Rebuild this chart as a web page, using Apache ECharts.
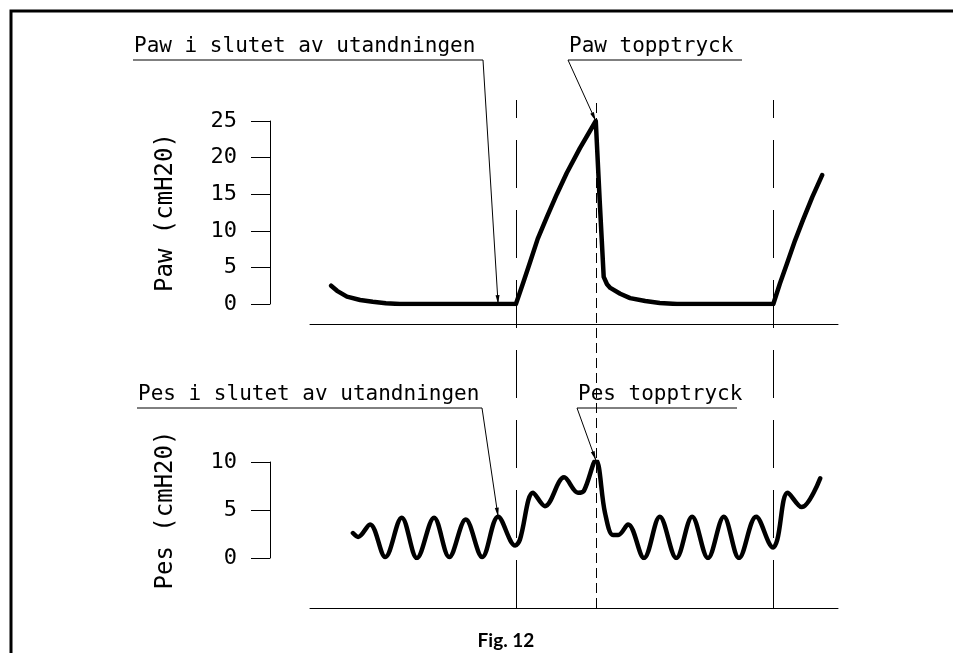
<!DOCTYPE html>
<html>
<head>
<meta charset="utf-8">
<script src="https://cdn.jsdelivr.net/npm/echarts@6/dist/echarts.min.js"></script>
<style>
  html, body { margin: 0; padding: 0; background: #fff; }
  #chart { width: 953px; height: 653px; }
</style>
</head>
<body>
<div id="chart"></div>
<script>
// time in seconds (arbitrary scale), pressure in cmH2O
var pawTime = [0.32, 0.41, 0.56, 0.76, 0.95, 1.15, 1.36, 3.12, 3.23, 3.33, 3.45, 3.59, 3.74, 3.89, 4.09, 4.33,
  4.39, 4.45, 4.50, 4.55, 4.70, 4.85, 5.08, 5.30, 5.56, 7.02, 7.12, 7.23, 7.35, 7.47, 7.61, 7.76];
var pawValue = [2.5, 1.8, 1.0, 0.55, 0.3, 0.1, 0, 0, 2.9, 5.6, 8.9, 11.9, 15.0, 17.9, 21.3, 25,
  14, 3.7, 2.7, 2.2, 1.4, 0.8, 0.4, 0.15, 0, 0, 2.8, 5.6, 8.7, 11.5, 14.6, 17.6];

var pesTime = [0.65, 0.73, 0.91, 1.14, 1.39, 1.62, 1.88, 2.11, 2.36, 2.61, 2.85, 3.11, 3.18, 3.38, 3.56, 3.85,
  4.06, 4.15, 4.33, 4.47, 4.59, 4.67, 4.82, 5.06, 5.30, 5.55, 5.79, 6.03, 6.27, 6.50, 6.76, 7.02, 7.08, 7.24, 7.45, 7.73];
var pesValue = [2.6, 2.2, 3.5, 0.1, 4.2, 0, 4.2, 0.1, 4.0, 0.1, 4.3, 1.3, 1.9, 6.8, 5.4, 8.4,
  6.8, 7.0, 10.2, 4.7, 2.4, 2.4, 3.5, 0, 4.3, 0, 4.3, 0, 4.3, 0, 4.3, 1.1, 1.9, 6.8, 5.3, 8.3];

var pawTicks = [0, 5, 10, 15, 20, 25];
var pesTicks = [0, 5, 10];

// breath start (long dash) and peak (short dash)
var breathStarts = [3.12, 7.02];
var peakTimes = [4.33];

var notes = [
  { text: 'Paw i slutet av utandningen', grid: 0, at: [2.85, 0], x0: 133, x1: 483, y: 60, side: 'right' },
  { text: 'Paw topptryck', grid: 0, at: [4.33, 25], x0: 568, x1: 742, y: 60, side: 'left' },
  { text: 'Pes i slutet av utandningen', grid: 1, at: [2.85, 4.3], x0: 137, x1: 482, y: 408, side: 'right' },
  { text: 'Pes topptryck', grid: 1, at: [4.33, 10.2], x0: 577, x1: 737, y: 408, side: 'left' }
];

var FONT = 'DejaVu Sans Mono';
var chart = echarts.init(document.getElementById('chart'));

function zip(a, b) {
  return a.map(function (v, i) { return [v, b[i]]; });
}

function xAxisFor(gridIndex, offset, visible) {
  return {
    type: 'value', gridIndex: gridIndex, min: 0, max: 8, offset: offset,
    axisLine: { show: visible, onZero: false, lineStyle: { color: '#000', width: 1 } },
    axisTick: { show: false }, axisLabel: { show: false }, splitLine: { show: false }
  };
}

function yAxisFor(gridIndex, ticks, name) {
  return {
    type: 'value', gridIndex: gridIndex, min: ticks[0], max: ticks[ticks.length - 1],
    interval: ticks[1] - ticks[0], offset: 40,
    name: name, nameLocation: 'middle', nameGap: 92,
    nameTextStyle: { fontFamily: FONT, fontSize: 24, color: '#000' },
    axisLine: { show: true, onZero: false, lineStyle: { color: '#000', width: 1 } },
    axisTick: { show: true, length: 19, lineStyle: { color: '#000', width: 1 } },
    axisLabel: { fontFamily: FONT, fontSize: 22, color: '#000', margin: 33 },
    splitLine: { show: false }
  };
}

var option = {
  animation: false,
  backgroundColor: '#fff',
  grid: [
    { left: 310, right: 115, top: 121, height: 183 },
    { left: 310, right: 115, top: 462, height: 96 },
    { left: 310, right: 115, top: 100, bottom: 45 }
  ],
  xAxis: [xAxisFor(0, 20, true), xAxisFor(1, 50, true), xAxisFor(2, 0, false)],
  yAxis: [
    yAxisFor(0, pawTicks, 'Paw (cmH20)'),
    yAxisFor(1, pesTicks, 'Pes (cmH20)'),
    { type: 'value', gridIndex: 2, min: 0, max: 1, show: false }
  ],
  series: [
    {
      type: 'line', xAxisIndex: 2, yAxisIndex: 2, data: [[0, 0]], symbol: 'none',
      lineStyle: { opacity: 0 }, silent: true,
      markLine: {
        symbol: 'none', silent: true, label: { show: false },
        data: breathStarts.map(function (t) {
          return { xAxis: t, lineStyle: { color: '#000', width: 1, type: [48, 22] } };
        }).concat(peakTimes.map(function (t) {
          return { xAxis: t, lineStyle: { color: '#000', width: 1, type: [10, 5] } };
        }))
      }
    },
    {
      type: 'line', xAxisIndex: 0, yAxisIndex: 0, data: zip(pawTime, pawValue),
      symbol: 'none', lineStyle: { color: '#000', width: 4.5, cap: 'round', join: 'round' }, z: 5
    },
    {
      type: 'line', xAxisIndex: 1, yAxisIndex: 1, data: zip(pesTime, pesValue), smooth: 0.35,
      symbol: 'none', lineStyle: { color: '#000', width: 4.5, cap: 'round', join: 'round' }, z: 5
    }
  ]
};
chart.setOption(option);

// frame, caption and the leader-line notes
var graphics = [
  { type: 'polyline', shape: { points: [[11, 653], [11, 11], [953, 11]] },
    style: { stroke: '#000', lineWidth: 3, fill: null } },
  { type: 'text', x: 506, y: 641, style: { text: 'Fig. 12', font: 'bold 19px Lato', fill: '#000',
    align: 'center', verticalAlign: 'middle' } }
];
notes.forEach(function (n) {
  var tip = chart.convertToPixel({ gridIndex: n.grid }, n.at);
  var sx = n.side === 'right' ? n.x1 : n.x0;
  var dx = tip[0] - sx, dy = tip[1] - n.y;
  var len = Math.sqrt(dx * dx + dy * dy);
  var ux = dx / len, uy = dy / len;
  var bx = tip[0] - ux * 9, by = tip[1] - uy * 9;
  graphics.push(
    { type: 'text', x: n.x0 + 1, y: n.y - 3, style: { text: n.text, font: '21px "' + FONT + '"',
      fill: '#000', align: 'left', verticalAlign: 'bottom' } },
    { type: 'line', shape: { x1: n.x0, y1: n.y, x2: n.x1, y2: n.y }, style: { stroke: '#000', lineWidth: 1 } },
    { type: 'line', shape: { x1: sx, y1: n.y, x2: tip[0], y2: tip[1] }, style: { stroke: '#000', lineWidth: 1 } },
    { type: 'polygon', shape: { points: [[tip[0], tip[1]], [bx - uy * 2, by + ux * 2], [bx + uy * 2, by - ux * 2]] },
      style: { fill: '#000' } }
  );
});
chart.setOption({ graphic: graphics });
</script>
</body>
</html>
